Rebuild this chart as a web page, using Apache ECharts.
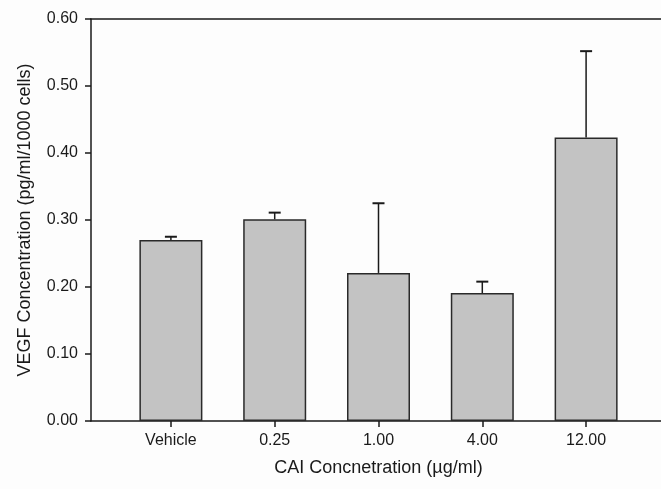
<!DOCTYPE html>
<html>
<head>
<meta charset="utf-8">
<script src="https://cdn.jsdelivr.net/npm/echarts@6/dist/echarts.min.js"></script>
<style>
html,body{margin:0;padding:0;background:#fdfdfd;}
#c{width:661px;height:489px;}
</style>
</head>
<body>
<div id="c"></div>
<script>
// Data
const categories = ['Vehicle', '0.25', '1.00', '4.00', '12.00'];
const means = [0.270, 0.301, 0.221, 0.191, 0.423];
const errors = [0.005, 0.010, 0.104, 0.017, 0.129];
const yTicks = [0, 0.1, 0.2, 0.3, 0.4, 0.5, 0.6];

const FONT = '"Liberation Sans", Arial, Helvetica, sans-serif';
const INK = '#1a1a1a';
const yMin = yTicks[0], yMax = yTicks[yTicks.length - 1], yStep = yTicks[1] - yTicks[0];

const chart = echarts.init(document.getElementById('c'), null, {renderer: 'canvas'});
chart.setOption({
  backgroundColor: '#fdfdfd',
  animation: false,
  grid: [
    {left: 91, right: 0, top: 19, bottom: 68},
    {left: 119, width: 519, top: 19, bottom: 68}
  ],
  xAxis: [
    {gridIndex: 0, type: 'value', min: 0, max: 1, position: 'bottom',
     axisLine: {show: true, lineStyle: {color: INK, width: 1.5}},
     axisTick: {show: false}, axisLabel: {show: false}, splitLine: {show: false}},
    {gridIndex: 0, type: 'value', min: 0, max: 1, position: 'top',
     axisLine: {show: true, lineStyle: {color: INK, width: 1.5}},
     axisTick: {show: false}, axisLabel: {show: false}, splitLine: {show: false}},
    {gridIndex: 1, type: 'category', data: categories, position: 'bottom',
     axisLine: {show: false},
     axisTick: {show: true, alignWithLabel: true, length: 6, inside: false, lineStyle: {color: INK, width: 1.5}},
     axisLabel: {margin: 12, fontSize: 16, color: INK, fontFamily: FONT},
     name: 'CAI Concnetration (\u00b5g/ml)', nameLocation: 'middle', nameGap: 38,
     nameTextStyle: {fontSize: 18, color: INK, fontFamily: FONT}}
  ],
  yAxis: [
    {gridIndex: 0, type: 'value', min: yMin, max: yMax, interval: yStep,
     axisLine: {show: true, lineStyle: {color: INK, width: 1.5}},
     axisTick: {show: true, length: 6, inside: false, lineStyle: {color: INK, width: 1.5}},
     axisLabel: {margin: 13, fontSize: 16, color: INK, fontFamily: FONT,
                 formatter: v => v.toFixed(2)},
     splitLine: {show: false},
     name: 'VEGF Concentration (pg/ml/1000 cells)', nameLocation: 'middle', nameGap: 57,
     nameTextStyle: {fontSize: 18, color: INK, fontFamily: FONT}},
    {gridIndex: 1, type: 'value', min: yMin, max: yMax, interval: yStep, show: false}
  ],
  series: [
    {type: 'bar', xAxisIndex: 2, yAxisIndex: 1, data: means, barWidth: 63,
     itemStyle: {color: '#c3c3c3', borderColor: '#2a2a2a', borderWidth: 1.5}},
    {type: 'custom', xAxisIndex: 2, yAxisIndex: 1, z: 3,
     data: means.map((m, i) => [i, m, m + errors[i]]),
     renderItem: function (params, api) {
       const base = api.coord([api.value(0), api.value(1)]);
       const top = api.coord([api.value(0), api.value(2)]);
       const hw = 6;
       const st = {stroke: INK, lineWidth: 1.5};
       return {type: 'group', children: [
         {type: 'line', shape: {x1: base[0], y1: base[1], x2: top[0], y2: top[1]}, style: st},
         {type: 'line', shape: {x1: top[0] - hw, y1: top[1], x2: top[0] + hw, y2: top[1]}, style: {stroke: INK, lineWidth: 2}}
       ]};
     }}
  ]
});
</script>
</body>
</html>
